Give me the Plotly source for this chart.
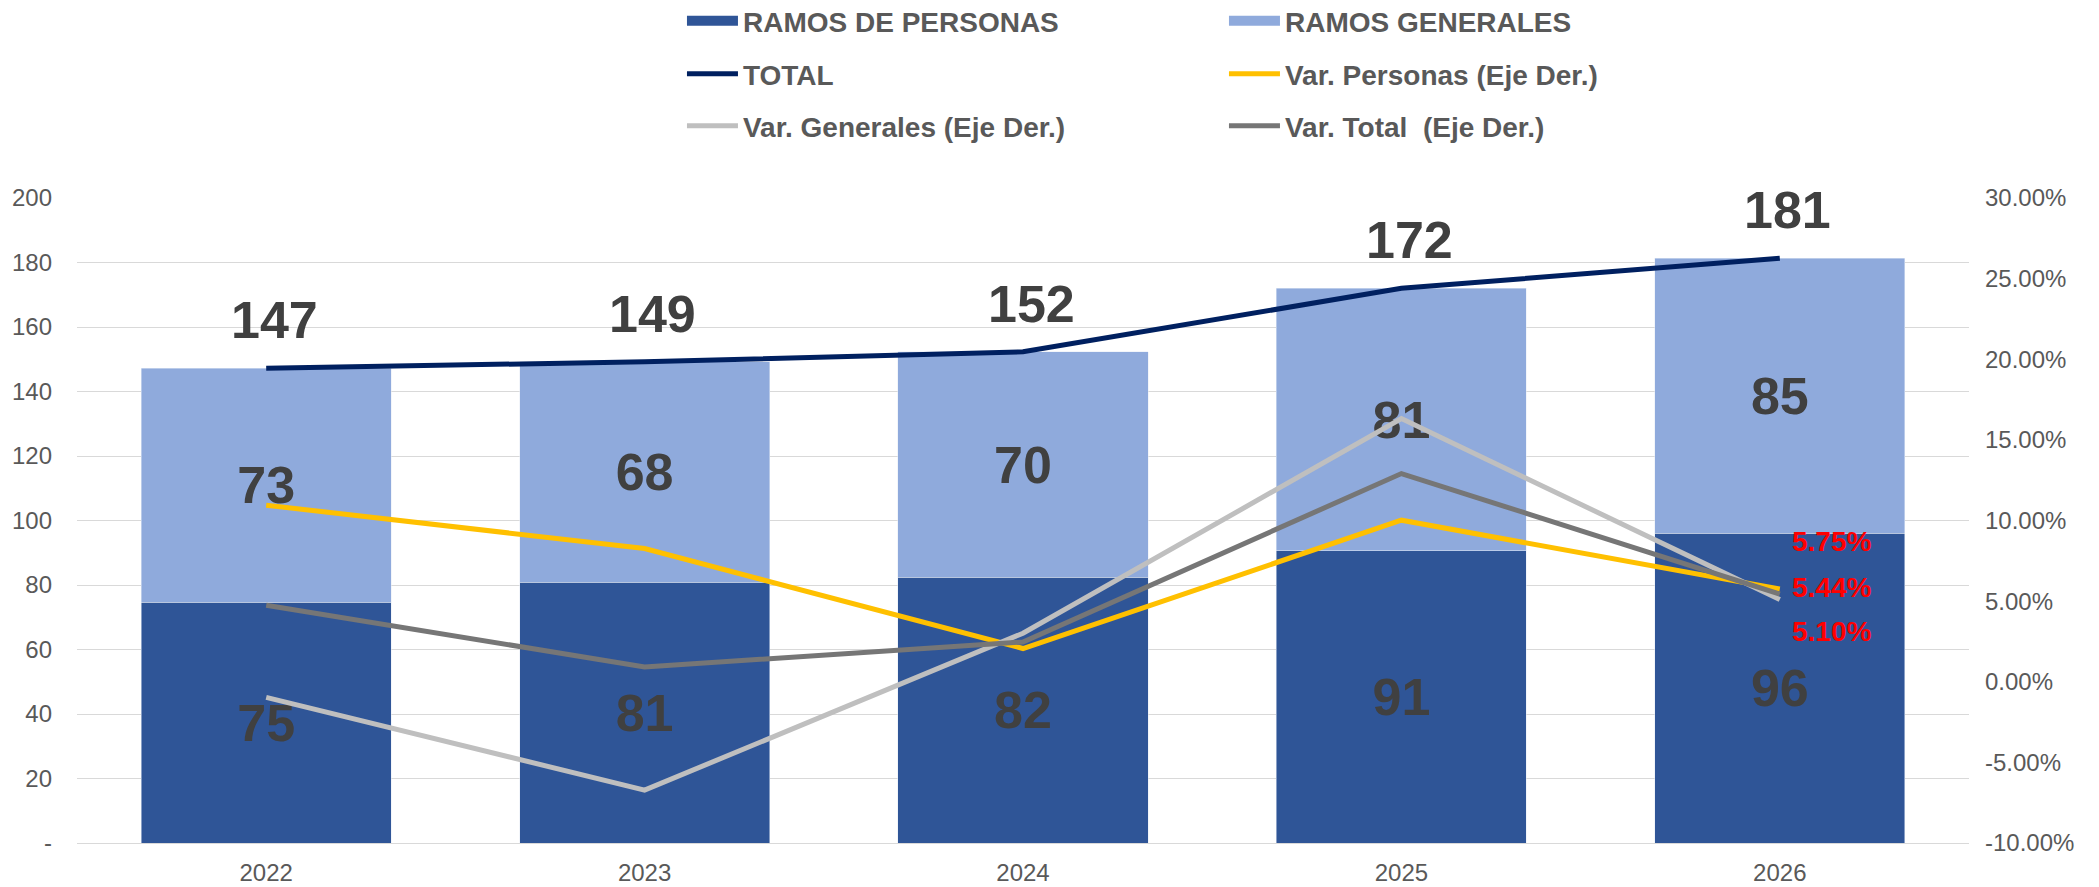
import plotly.graph_objects as go

# ---------------- data ----------------
years = ["2022", "2023", "2024", "2025", "2026"]
personas = [74.6, 80.8, 82.4, 90.6, 96.0]
generales = [72.6, 68.4, 69.9, 81.4, 85.3]
total = [147.2, 149.2, 152.3, 172.0, 181.3]
var_personas = [0.1095, 0.0826, 0.0206, 0.1002, 0.0575]
var_generales = [-0.0097, -0.0672, 0.0301, 0.1632, 0.0510]
var_total = [0.0475, 0.0092, 0.0247, 0.1291, 0.0544]
left_tickvals = [0, 20, 40, 60, 80, 100, 120, 140, 160, 180, 200]
left_ticktext = ["-", "20", "40", "60", "80", "100", "120", "140", "160", "180", "200"]
right_tickvals = [-0.10, -0.05, 0.0, 0.05, 0.10, 0.15, 0.20, 0.25, 0.30]
right_ticktext = ["-10.00%", "-5.00%", "0.00%", "5.00%", "10.00%", "15.00%",
                  "20.00%", "25.00%", "30.00%"]

# ---------------- styles ----------------
FONT = "Arial, Liberation Sans, sans-serif"
C_PERS = "#2F5597"
C_GEN = "#8FAADC"
C_TOT = "#002060"
C_VPERS = "#FFC000"
C_VGEN = "#BFBFBF"
C_VTOT = "#767676"
LBL = "#404040"
TICK = "#595959"

fig = go.Figure()

fig.add_trace(go.Bar(
    x=years, y=personas, name="RAMOS DE PERSONAS", marker_color=C_PERS,
    texttemplate="%{y:.0f}", textposition="inside", insidetextanchor="middle",
    textangle=0, constraintext="none",
    textfont=dict(family=FONT, size=52, color=LBL, weight="bold"),
    showlegend=False, hoverinfo="skip"))
fig.add_trace(go.Bar(
    x=years, y=generales, name="RAMOS GENERALES", marker_color=C_GEN,
    texttemplate="%{y:.0f}", textposition="inside", insidetextanchor="middle",
    textangle=0, constraintext="none",
    textfont=dict(family=FONT, size=52, color=LBL, weight="bold"),
    showlegend=False, hoverinfo="skip"))

# legend swatches for the bar series (no visible data)
fig.add_trace(go.Scatter(x=[years[0]], y=[None], mode="lines", name="RAMOS DE PERSONAS",
                         line=dict(color=C_PERS, width=17), legend="legend"))
fig.add_trace(go.Scatter(x=[years[0]], y=[None], mode="lines", name="RAMOS GENERALES",
                         line=dict(color=C_GEN, width=17), legend="legend"))

fig.add_trace(go.Scatter(x=years, y=total, mode="lines", name="TOTAL",
                         line=dict(color=C_TOT, width=5), legend="legend2"))
fig.add_trace(go.Scatter(x=years, y=var_personas, mode="lines", name="Var. Personas (Eje Der.)",
                         line=dict(color=C_VPERS, width=5), yaxis="y2", legend="legend2"))
fig.add_trace(go.Scatter(x=years, y=var_generales, mode="lines", name="Var. Generales (Eje Der.)",
                         line=dict(color=C_VGEN, width=5), yaxis="y2", legend="legend3"))
fig.add_trace(go.Scatter(x=years, y=var_total, mode="lines", name="Var. Total  (Eje Der.)",
                         line=dict(color=C_VTOT, width=5), yaxis="y2", legend="legend3"))

annotations = []
for i, t in enumerate(total):
    annotations.append(dict(x=i, y=t, xref="x", yref="y", text=f"<b>{t:.0f}</b>",
                            showarrow=False, xshift=8, yshift=48,
                            xanchor="center", yanchor="middle",
                            font=dict(family=FONT, size=52, color=LBL)))
last = len(years) - 1
for series, ys in ((var_personas, 48), (var_total, 7), (var_generales, -32)):
    annotations.append(dict(x=last, y=series[last], xref="x", yref="y2",
                            text=f"<b>{series[last]*100:.2f}%</b>", showarrow=False,
                            xanchor="left", yanchor="middle", xshift=10, yshift=ys,
                            font=dict(family=FONT, size=28, color="#FF0000")))

legend_common = dict(orientation="h", xref="container", yref="container",
                     xanchor="left", yanchor="middle", itemwidth=51,
                     entrywidth=476, entrywidthmode="pixels", traceorder="normal",
                     bgcolor="rgba(0,0,0,0)", borderwidth=0,
                     font=dict(family=FONT, size=28, color=TICK, weight="bold"),
                     itemclick=False, itemdoubleclick=False)

fig.update_layout(
    width=2099, height=887,
    margin=dict(l=77, r=130, t=198, b=44, autoexpand=False),
    paper_bgcolor="white", plot_bgcolor="white",
    barmode="stack", bargap=0.339,
    font=dict(family=FONT, color=TICK),
    annotations=annotations,
    legend=dict(x=0.3249, y=0.9763, **legend_common),
    legend2=dict(x=0.3249, y=0.9166, **legend_common),
    legend3=dict(x=0.3249, y=0.8579, **legend_common),
    xaxis=dict(type="category", categoryorder="array", categoryarray=years,
               range=[-0.5, len(years) - 0.5],
               showgrid=False, showline=True, linecolor="#D9D9D9",
               linewidth=1, ticks="", tickfont=dict(family=FONT, size=24, color=TICK),
               ticklabelstandoff=8),
    yaxis=dict(range=[0, 200], tickvals=left_tickvals, ticktext=left_ticktext,
               showgrid=True, gridcolor="#D9D9D9", gridwidth=1, zeroline=False,
               showline=False, ticks="", tickfont=dict(family=FONT, size=24, color=TICK),
               ticklabelstandoff=24),
    yaxis2=dict(range=[-0.10, 0.30], tickvals=right_tickvals, ticktext=right_ticktext,
                overlaying="y", side="right", showgrid=False, zeroline=False,
                showline=False, ticks="", tickfont=dict(family=FONT, size=24, color=TICK),
                ticklabelstandoff=15),
    hovermode=False,
)

fig.write_html("out.html", post_script="document.body.style.margin='0';",
               config={"displayModeBar": False})
